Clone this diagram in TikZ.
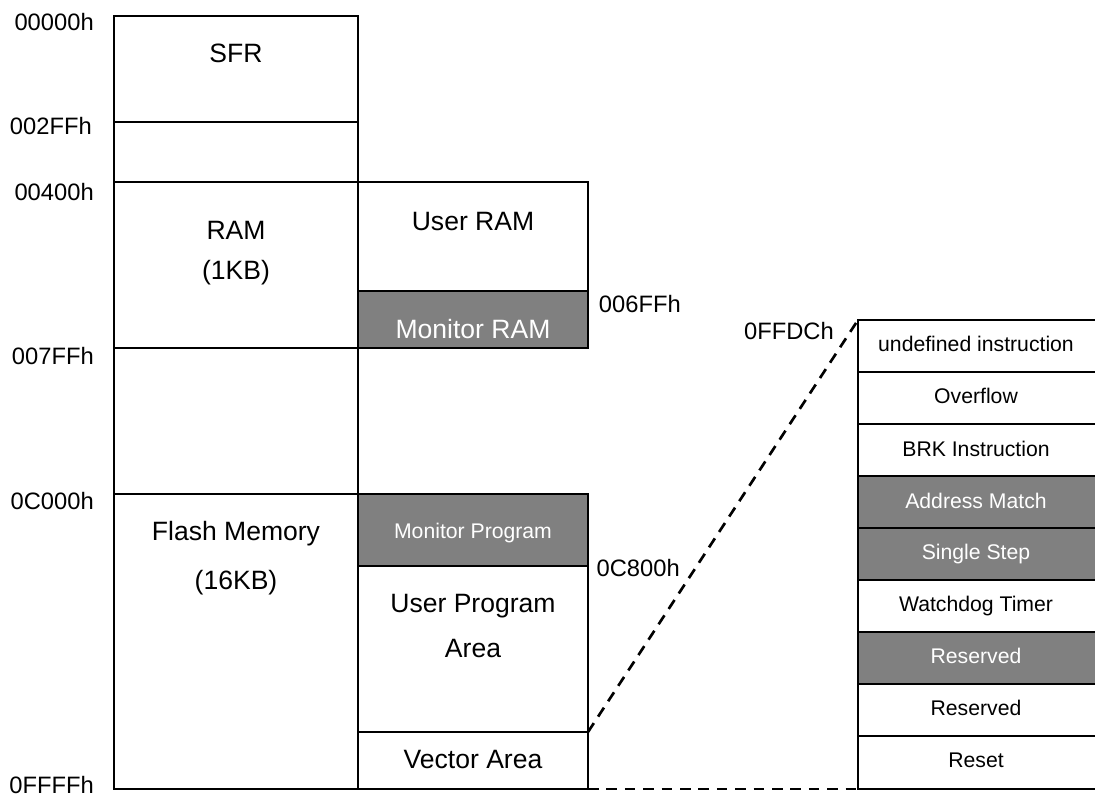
\documentclass[tikz,border=0pt]{standalone}
\usepackage{fontspec}
\setmainfont{Liberation Sans}
\tikzset{
  memcell/.style={draw, line width=1.8pt, anchor=north west, inner sep=0pt, outer sep=0pt, minimum width=#1},
  leftcell/.style={memcell=183pt},
  midcell/.style={memcell=172.5pt},
  rowcell/.style={memcell=183pt, minimum height=39pt},
  darkcell/.style={fill=black!50!white},
  bigtxt/.style={font=\fontsize{19.9}{24}\selectfont, anchor=base, inner sep=0pt},
  smalltxt/.style={font=\fontsize{15.9}{19}\selectfont, anchor=base, inner sep=0pt},
  addr/.style={font=\fontsize{17.8}{21}\selectfont, anchor=base east, inner sep=0pt},
  link/.style={line width=2pt, dash pattern=on 8pt off 5.8pt}
}
\begin{document}
\begin{tikzpicture}[x=0.75pt, y=-0.75pt]
        \useasboundingbox (0,0) rectangle (1095,796);
        \clip (0,0) rectangle (1095,796);

        % left column
        \node[leftcell, minimum height=79.5pt] (sfr) at (114,16) {};
        \node[leftcell, minimum height=45pt] (gapa) at (114,122) {};
        \node[leftcell, minimum height=124.5pt] (ram) at (114,182) {};
        \node[leftcell, minimum height=109.5pt] (gapb) at (114,348) {};
        \node[leftcell, minimum height=221.25pt] (flash) at (114,494) {};

        % middle column
        \node[midcell, minimum height=81.75pt] (userram) at (358,182) {};
        \node[midcell, darkcell, minimum height=42.75pt] (monram) at (358,291) {};
        \node[midcell, darkcell, minimum height=54pt] (monprog) at (358,494) {};
        \node[midcell, minimum height=124.5pt] (userprog) at (358,566) {};
        \node[midcell, minimum height=42.75pt] (vector) at (358,732) {};

        % vector table
        \node[rowcell] (undef) at (858,320) {};
        \node[rowcell] (overflow) at (858,372) {};
        \node[rowcell] (brk) at (858,424) {};
        \node[rowcell, darkcell] (match) at (858,476) {};
        \node[rowcell, darkcell] (single) at (858,528) {};
        \node[rowcell] (watchdog) at (858,580) {};
        \node[rowcell, darkcell] (reserveda) at (858,632) {};
        \node[rowcell] (reservedb) at (858,684) {};
        \node[rowcell, minimum height=39.75pt] (reset) at (858,736) {};

        \draw[link] (vector.north east) -- (undef.north west);
        \draw[link] (vector.south east) -- (reset.south west);

        % texts
        \node[bigtxt] (sfrtxt) at (236,62) {SFR};
        \node[bigtxt] (ramtxt) at (236,239) {RAM};
        \node[bigtxt] (ramsize) at (236,279) {(1KB)};
        \node[bigtxt] (flashtxt) at (236,540) {Flash Memory};
        \node[bigtxt] (flashsize) at (236,589) {(16KB)};
        \node[bigtxt] (userramtxt) at (473,230) {User RAM};
        \node[bigtxt, text=white] (monramtxt) at (473,338) {Monitor RAM};
        \node[smalltxt, text=white] (monprogtxt) at (473,538) {Monitor Program};
        \node[bigtxt] (userprogtxt) at (473,612) {User Program};
        \node[bigtxt] (areatxt) at (473,657) {Area};
        \node[bigtxt] (vectortxt) at (473,768) {Vector Area};

        \node[smalltxt] (undeftxt) at (976,351) {undefined instruction};
        \node[smalltxt] (overflowtxt) at (976,403) {Overflow};
        \node[smalltxt] (brktxt) at (976,456) {BRK Instruction};
        \node[smalltxt, text=white] (matchtxt) at (976,508) {Address Match};
        \node[smalltxt, text=white] (singletxt) at (976,559) {Single Step};
        \node[smalltxt] (watchdogtxt) at (976,611) {Watchdog Timer};
        \node[smalltxt, text=white] (reservedatxt) at (976,663) {Reserved};
        \node[smalltxt] (reservedbtxt) at (976,715) {Reserved};
        \node[smalltxt] (resettxt) at (976,767) {Reset};

        % addresses
        \node[addr] (a00000) at (94,31) {00000h};
        \node[addr] (a002ff) at (92,134) {002FFh};
        \node[addr] (a00400) at (94,200) {00400h};
        \node[addr] (a007ff) at (94,364) {007FFh};
        \node[addr] (a0c000) at (94,509) {0C000h};
        \node[addr] (a0ffff) at (94,793) {0FFFFh};
        \node[addr] (a006ff) at (681,312) {006FFh};
        \node[addr] (a0c800) at (680,576) {0C800h};
        \node[addr] (a0ffdc) at (834,339) {0FFDCh};

        \end{tikzpicture}
\end{document}
